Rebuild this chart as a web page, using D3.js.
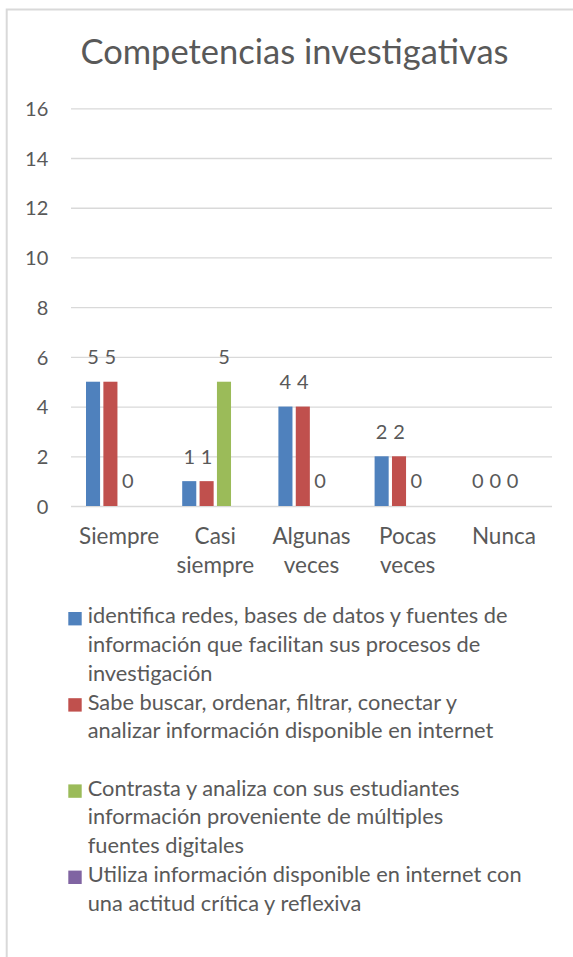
<!DOCTYPE html>
<html>
<head>
<meta charset="utf-8">
<script src="https://cdn.jsdelivr.net/npm/d3@7"></script>
<style>
  body { margin: 0; background: #fff; }
  text { font-family: Lato, "Open Sans", sans-serif; fill: #595959; }
</style>
</head>
<body>
<div id="chart"></div>
<script>
// data
const categories = ["Siempre", "Casi siempre", "Algunas veces", "Pocas veces", "Nunca"];
// legend names, split into the lines shown in the picture
const seriesNames = [
  ["identifica redes, bases de datos y fuentes de", "información que facilitan sus procesos de", "investigación"],
  ["Sabe buscar, ordenar, filtrar, conectar y", "analizar información disponible en internet"],
  ["Contrasta y analiza con sus estudiantes", "información proveniente de múltiples", "fuentes digitales"],
  ["Utiliza información disponible en internet con", "una actitud crítica y reflexiva"]
];
const identificaValues = [5, 1, 4, 2, 0];
const sabeBuscarValues = [5, 1, 4, 2, 0];
const contrastaValues = [0, 5, 0, 0, 0];
const utilizaValues = [null, null, null, null, null];
const yTicks = [0, 2, 4, 6, 8, 10, 12, 14, 16];
const colors = ["#4F81BD", "#C0504D", "#9BBB59", "#8064A2"];

const allValues = [identificaValues, sabeBuscarValues, contrastaValues, utilizaValues];

// set the dimensions
const W = 573, H = 957;
const margin = {top: 108.3, left: 71, right: 21};
const width = W - margin.left - margin.right,
      height = 506 - margin.top;

const svg = d3.select("#chart")
  .append("svg")
    .attr("width", W)
    .attr("height", H);

// chart frame
svg.append("rect")
  .attr("x", 6.7).attr("y", 9.5)
  .attr("width", 700).attr("height", 1100)
  .attr("fill", "#fff")
  .attr("stroke", "#d9d9d9")
  .attr("stroke-width", 2);

// title
svg.append("text")
  .attr("x", 294.5).attr("y", 64.3)
  .attr("text-anchor", "middle")
  .style("font-size", "34.5px")
  .text("Competencias investigativas");

const g = svg.append("g")
  .attr("transform", `translate(${margin.left},${margin.top})`);

// scales
const x0 = d3.scaleBand()
  .domain(categories)
  .range([0, width])
  .padding(0);

const groupPad = 15 / 96.2;
const x1 = d3.scaleBand()
  .domain(d3.range(seriesNames.length))
  .range([x0.bandwidth() * groupPad, x0.bandwidth() * (1 - groupPad)])
  .paddingInner(0.19);

const y = d3.scaleLinear()
  .domain([0, 16])
  .range([height, 0]);

// Y axis with gridlines
const yAxis = g.append("g")
  .call(d3.axisLeft(y).tickValues(yTicks).tickSize(-width).tickPadding(22.7));
yAxis.select(".domain").remove();
yAxis.selectAll(".tick line")
  .attr("stroke", "#d9d9d9")
  .attr("stroke-width", 1.3);
yAxis.selectAll(".tick text")
  .attr("dy", "0.36em")
  .style("font-size", "20px")
  .style("font-family", "Lato, sans-serif")
  .attr("fill", "#595959");

// wrap text into tspans
function wrap(sel, maxW, lineH) {
  sel.each(function() {
    const t = d3.select(this);
    const words = t.text().split(/\s+/);
    const x = t.attr("x");
    t.text(null);
    let line = [];
    let tspan = t.append("tspan").attr("x", x).attr("dy", 0);
    words.forEach(w => {
      line.push(w);
      tspan.text(line.join(" "));
      if (tspan.node().getComputedTextLength() > maxW && line.length > 1) {
        line.pop();
        tspan.text(line.join(" "));
        line = [w];
        tspan = t.append("tspan").attr("x", x).attr("dy", lineH).text(w);
      }
    });
  });
}

// X labels
g.append("g")
  .selectAll("text")
  .data(categories)
  .join("text")
    .attr("x", d => x0(d) + x0.bandwidth() / 2)
    .attr("y", height + 38)
    .attr("text-anchor", "middle")
    .style("font-size", "22.5px")
    .text(d => d)
    .call(wrap, 92, 29);

// bars
const groups = g.append("g")
  .selectAll("g")
  .data(categories)
  .join("g")
    .attr("transform", d => `translate(${x0(d)},0)`);

groups.selectAll("rect")
  .data((d, i) => allValues.map((s, k) => ({k: k, v: s[i]})).filter(e => e.v !== null))
  .join("rect")
    .attr("x", d => x1(d.k))
    .attr("y", d => y(d.v))
    .attr("width", x1.bandwidth())
    .attr("height", d => height - y(d.v))
    .attr("fill", d => colors[d.k]);

// data labels
groups.selectAll("text")
  .data((d, i) => allValues.map((s, k) => ({k: k, v: s[i]})).filter(e => e.v !== null))
  .join("text")
    .attr("x", d => x1(d.k) + x1.bandwidth() / 2)
    .attr("y", d => y(d.v) - 17.5)
    .attr("text-anchor", "middle")
    .style("font-size", "20px")
    .text(d => d.v);

// legend
const legend = svg.append("g")
  .selectAll("g")
  .data(seriesNames)
  .join("g")
    .attr("transform", (d, i) => `translate(68.3,${623.3 + i * 86.2})`);

legend.append("rect")
  .attr("x", 0).attr("y", -11.3)
  .attr("width", 13.4).attr("height", 13.4)
  .attr("fill", (d, i) => colors[i]);

legend.append("text")
  .style("font-size", "21.8px")
  .selectAll("tspan")
  .data(d => d)
  .join("tspan")
    .attr("x", 19.4)
    .attr("y", (d, i) => i * 28.7)
    .text(d => d);
</script>
</body>
</html>
